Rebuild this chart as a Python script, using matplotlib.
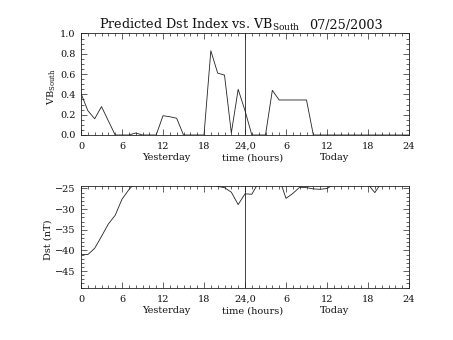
import numpy as np
import matplotlib
matplotlib.use("Agg")
import matplotlib.pyplot as plt
from matplotlib.ticker import MultipleLocator, FixedLocator, FixedFormatter

plt.rcParams["font.family"] = "DejaVu Serif"
plt.rcParams["mathtext.fontset"] = "dejavuserif"

# hourly samples: yesterday 0-24, today 0-24
hours = list(range(49))

vb_south = [0.41, 0.24, 0.16, 0.28, 0.14, 0.0, 0.0, 0.0, 0.02, 0.0,
            0.0, 0.0, 0.19, 0.18, 0.165, 0.0, 0.0, 0.0, 0.0, 0.83,
            0.61, 0.59, 0.02, 0.45, 0.24, 0.0, 0.0, 0.0, 0.44, 0.345,
            0.345, 0.345, 0.345, 0.345, 0.0, 0.0, 0.0, 0.0, 0.0, 0.0,
            0.0, 0.0, 0.0, 0.0, 0.0, 0.0, 0.0, 0.0, 0.0]

dst = [-41.0, -41.0, -39.5, -36.6, -33.6, -31.5, -27.6, -25.3, -23.5, -22.5,
       -22.0, -21.5, -21.5, -21.5, -22.0, -22.0, -22.5, -22.5, -23.0, -23.5,
       -24.5, -24.8, -25.9, -28.9, -26.3, -26.4, -23.5, -23.0, -23.0, -22.5,
       -27.4, -26.2, -24.7, -24.8, -25.1, -25.2, -25.0, -24.0, -23.5, -23.0,
       -23.0, -23.5, -24.0, -26.0, -23.5, -23.0, -23.0, -23.0, -23.0]

xtick_pos = [0, 6, 12, 18, 24, 30, 36, 42, 48]
xtick_lab = ["0", "6", "12", "18", "24,0", "6", "12", "18", "24"]
day_labels = ["Yesterday", "time (hours)", "Today"]
day_pos = [0.259, 0.524, 0.773]

LC = "#222222"
TC = "#111111"
LW = 0.6
W, H = 453, 340

fig = plt.figure(figsize=(W / 100, H / 100), dpi=100)
ax1 = fig.add_axes([81 / W, 1 - 135 / H, 328 / W, 101.5 / H])
ax2 = fig.add_axes([81 / W, 1 - 288 / H, 328 / W, 102 / H])


def style(ax):
    ax.set_xlim(0, 48)
    ax.xaxis.set_major_locator(FixedLocator(xtick_pos))
    ax.xaxis.set_major_formatter(FixedFormatter(xtick_lab))
    ax.xaxis.set_minor_locator(MultipleLocator(1))
    ax.tick_params(which="both", direction="in", top=True, right=True,
                   color=LC, width=0.5, labelsize=7, labelcolor=TC)
    ax.tick_params(which="major", length=4)
    ax.tick_params(which="minor", length=2)
    ax.tick_params(axis="x", pad=5)
    ax.tick_params(axis="y", pad=4)
    for s in ax.spines.values():
        s.set_linewidth(LW)
        s.set_color(LC)
    ax.axvline(24, color=LC, lw=LW)
    for lab, px in zip(day_labels, day_pos):
        ax.text(px, -0.225, lab, transform=ax.transAxes, ha="center",
                va="center", fontsize=7, color=TC)


# top panel: VB south
ax1.plot(hours, vb_south, color=LC, lw=LW)
ax1.set_ylim(0, 1.0)
ax1.yaxis.set_major_locator(MultipleLocator(0.2))
ax1.yaxis.set_minor_locator(MultipleLocator(0.05))
ax1.yaxis.set_major_formatter(plt.FormatStrFormatter("%.1f"))
style(ax1)
fig.text(52 / W, 1 - 87 / H, r"VB$_{\rm South}$", rotation=90, ha="center",
         va="center", fontsize=7, color=TC)

# bottom panel: Dst
ax2.plot(hours, dst, color=LC, lw=LW)
ax2.set_ylim(-49.1, -24.4)
ax2.yaxis.set_major_locator(MultipleLocator(5))
ax2.yaxis.set_minor_locator(MultipleLocator(1))
style(ax2)
fig.text(48.5 / W, 1 - 240 / H, "Dst (nT)", rotation=90, ha="center",
         va="center", fontsize=7, color=TC)

# title: name and date set apart
fig.text(99 / W, 1 - 28.5 / H, r"Predicted Dst Index vs. VB$_{\rm South}$",
         ha="left", va="baseline", fontsize=9.2, color=TC)
fig.text(309 / W, 1 - 28.5 / H, "07/25/2003",
         ha="left", va="baseline", fontsize=9.2, color=TC)

fig.savefig("out.png", dpi=100)
